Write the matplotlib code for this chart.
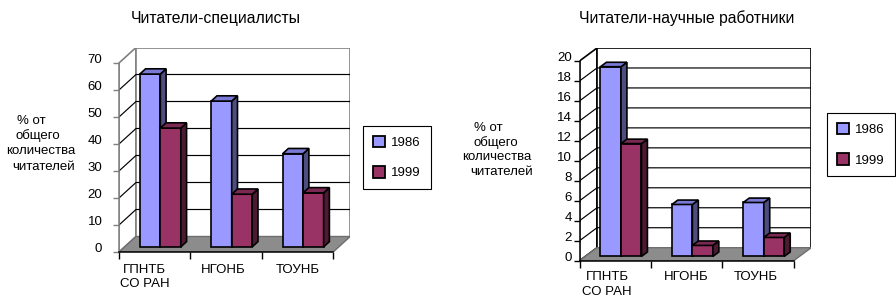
import numpy as np
import matplotlib
matplotlib.use("Agg")
import matplotlib.pyplot as plt
from matplotlib.patches import Polygon
from matplotlib.transforms import ScaledTranslation

plt.rcParams['font.family'] = ['Liberation Sans', 'DejaVu Sans']

# ---------------------------------------------------------------------------
# Data
# ---------------------------------------------------------------------------
libraries = ["ГПНТБ\nСО РАН", "НГОНБ", "ТОУНБ"]
years = ["1986", "1999"]

specialists_1986 = [64, 54, 34.5]
specialists_1999 = [44, 19.5, 20]

scientists_1986 = [19, 5.2, 5.4]
scientists_1999 = [11.3, 1.1, 1.9]

title_left = "Читатели-специалисты"
title_right = "Читатели-научные работники"
ylabel_lines = ["% от", "общего", "количества", "читателей"]

# ---------------------------------------------------------------------------
# Styling
# ---------------------------------------------------------------------------
W, H = 896, 303
FS = 9.5
FRONT = ['#9999FF', '#993366']
SIDE = ['#4D4D80', '#4D1A33']
TOP = ['#7A7AD6', '#7A2952']

fig = plt.figure(figsize=(W / 100, H / 100), dpi=100)


def fig_xy(x, y):
    # pixel position (from top-left) -> figure fraction
    return x / W, 1 - y / H


def draw_panel(left, zero_y, cat_px, val_px, vmax, step, dx, dy, series,
               wall_col, spine_col, tick_pad, label_dx, label_dy, label_ls):
    n = len(libraries)
    w_px = n * cat_px + dx
    h_px = vmax * val_px + dy
    ax = fig.add_axes([left / W, (H - zero_y) / H, w_px / W, h_px / H])
    ax.set_facecolor('none')
    dxd, dyd = dx / cat_px, dy / val_px
    ax.set_xlim(0, n + dxd)
    ax.set_ylim(0, vmax + dyd)

    def P(x, v, d):
        return (x + d * dxd, v + d * dyd)

    # walls
    ax.add_patch(Polygon([P(0, 0, 0), P(0, 0, 1), P(0, vmax, 1), P(0, vmax, 0)],
                         closed=True, fc='white', ec=wall_col, lw=1.2, zorder=0))
    ax.add_patch(Polygon([P(0, 0, 1), P(n, 0, 1), P(n, vmax, 1), P(0, vmax, 1)],
                         closed=True, fc='white', ec=wall_col, lw=1.2, zorder=0))
    ticks = np.arange(0, vmax + step / 2, step)
    for t in ticks[1:-1]:
        pts = [P(0, t, 0), P(0, t, 1), P(n, t, 1)]
        ax.plot([p[0] for p in pts], [p[1] for p in pts],
                color='black', lw=0.85, zorder=1)
    # floor
    ax.add_patch(Polygon([P(0, 0, 0), P(n, 0, 0), P(n, 0, 1), P(0, 0, 1)],
                         closed=True, fc='#8C8C8C', ec='#6E6E6E', lw=1.0, zorder=2))

    # bars
    bw, off, d1, d2 = 0.287, 0.213, 0.33, 0.67
    handles = []
    for s, vals in enumerate(series):
        xs = np.arange(n) + off + s * bw
        z = 3 + s
        bars = ax.bar(xs + d1 * dxd, vals, width=bw, bottom=d1 * dyd,
                      align='edge', color=FRONT[s], edgecolor='black',
                      lw=1.2, zorder=z)
        handles.append(bars)
        for x, v in zip(xs, vals):
            side = [P(x + bw, 0, d1), P(x + bw, 0, d2), P(x + bw, v, d2), P(x + bw, v, d1)]
            top = [P(x, v, d1), P(x + bw, v, d1), P(x + bw, v, d2), P(x, v, d2)]
            ax.add_patch(Polygon(side, closed=True, fc=SIDE[s], ec='black',
                                 lw=1.2, zorder=z))
            ax.add_patch(Polygon(top, closed=True, fc=TOP[s], ec='black',
                                 lw=1.2, zorder=z))

    # axes lines and ticks
    ax.spines['top'].set_visible(False)
    ax.spines['right'].set_visible(False)
    ax.spines['left'].set_bounds(0, vmax)
    ax.spines['bottom'].set_bounds(0, n)
    ax.spines['left'].set_color(spine_col)
    ax.spines['bottom'].set_color('black')
    ax.spines['left'].set_linewidth(1.1)
    ax.spines['bottom'].set_linewidth(1.1)
    ax.set_yticks(ticks)
    ax.set_yticklabels([f"{t:g}" for t in ticks])
    ax.set_xticks(np.arange(n + 1))
    ax.set_xticklabels([])
    ax.tick_params(axis='y', length=4, pad=tick_pad, labelsize=FS,
                   color=spine_col, width=1.0)
    ax.tick_params(axis='x', length=5, width=1.0)
    shift = ScaledTranslation(0, 4.5 / 100, fig.dpi_scale_trans)
    for tk in ax.yaxis.get_major_ticks():
        tk.label1.set_transform(tk.label1.get_transform() + shift)

    # category labels
    for i, lbl in enumerate(libraries):
        ax.annotate(lbl, xy=(i + 0.5, 0), xytext=(label_dx[i], -label_dy),
                    textcoords='offset pixels', ha='center', va='top',
                    fontsize=FS, linespacing=label_ls)
    return handles


h_left = draw_panel(119, 252, 71.4, 2.7, 70, 10, 17, 15.5,
                    [specialists_1986, specialists_1999],
                    '#808080', '#808080', 8, [-10, -3, 0], 12, 1.2)
h_right = draw_panel(579.5, 260.7, 71.4, 9.985, 20, 2, 17.5, 13,
                     [scientists_1986, scientists_1999],
                     'black', 'black', 1.5, [-8, 0, -2], 10, 1.4)

# titles
fig.text(*fig_xy(216, 18), title_left, ha='center', va='center', fontsize=11.3)
fig.text(*fig_xy(687, 18), title_right, ha='center', va='center', fontsize=11.3)

# y-axis captions (Excel-style wrapped text)
left_caption = [(31, 121), (37.5, 136), (40.5, 151), (44, 167)]
right_caption = [(488, 128), (496, 143), (497, 157.5), (502, 172.5)]
for (x, y), line in zip(left_caption, ylabel_lines):
    fig.text(*fig_xy(x, y), line, ha='center', va='center', fontsize=FS)
for (x, y), line in zip(right_caption, ylabel_lines):
    fig.text(*fig_xy(x, y), line, ha='center', va='center', fontsize=FS)

# legends
for handles, (lx, ly) in [(h_left, (363, 126)), (h_right, (827, 113))]:
    leg = fig.legend(handles, years, loc='upper left',
                     bbox_to_anchor=fig_xy(lx, ly), fontsize=FS,
                     frameon=True, fancybox=False, framealpha=1,
                     edgecolor='black', handlelength=0.95, handleheight=0.95,
                     handletextpad=0.45, labelspacing=1.3, borderpad=0.75,
                     borderaxespad=0)
    leg.get_frame().set_linewidth(0.8)
    for p in leg.get_patches():
        p.set_linewidth(1.3)

fig.savefig("out.png", dpi=100)
